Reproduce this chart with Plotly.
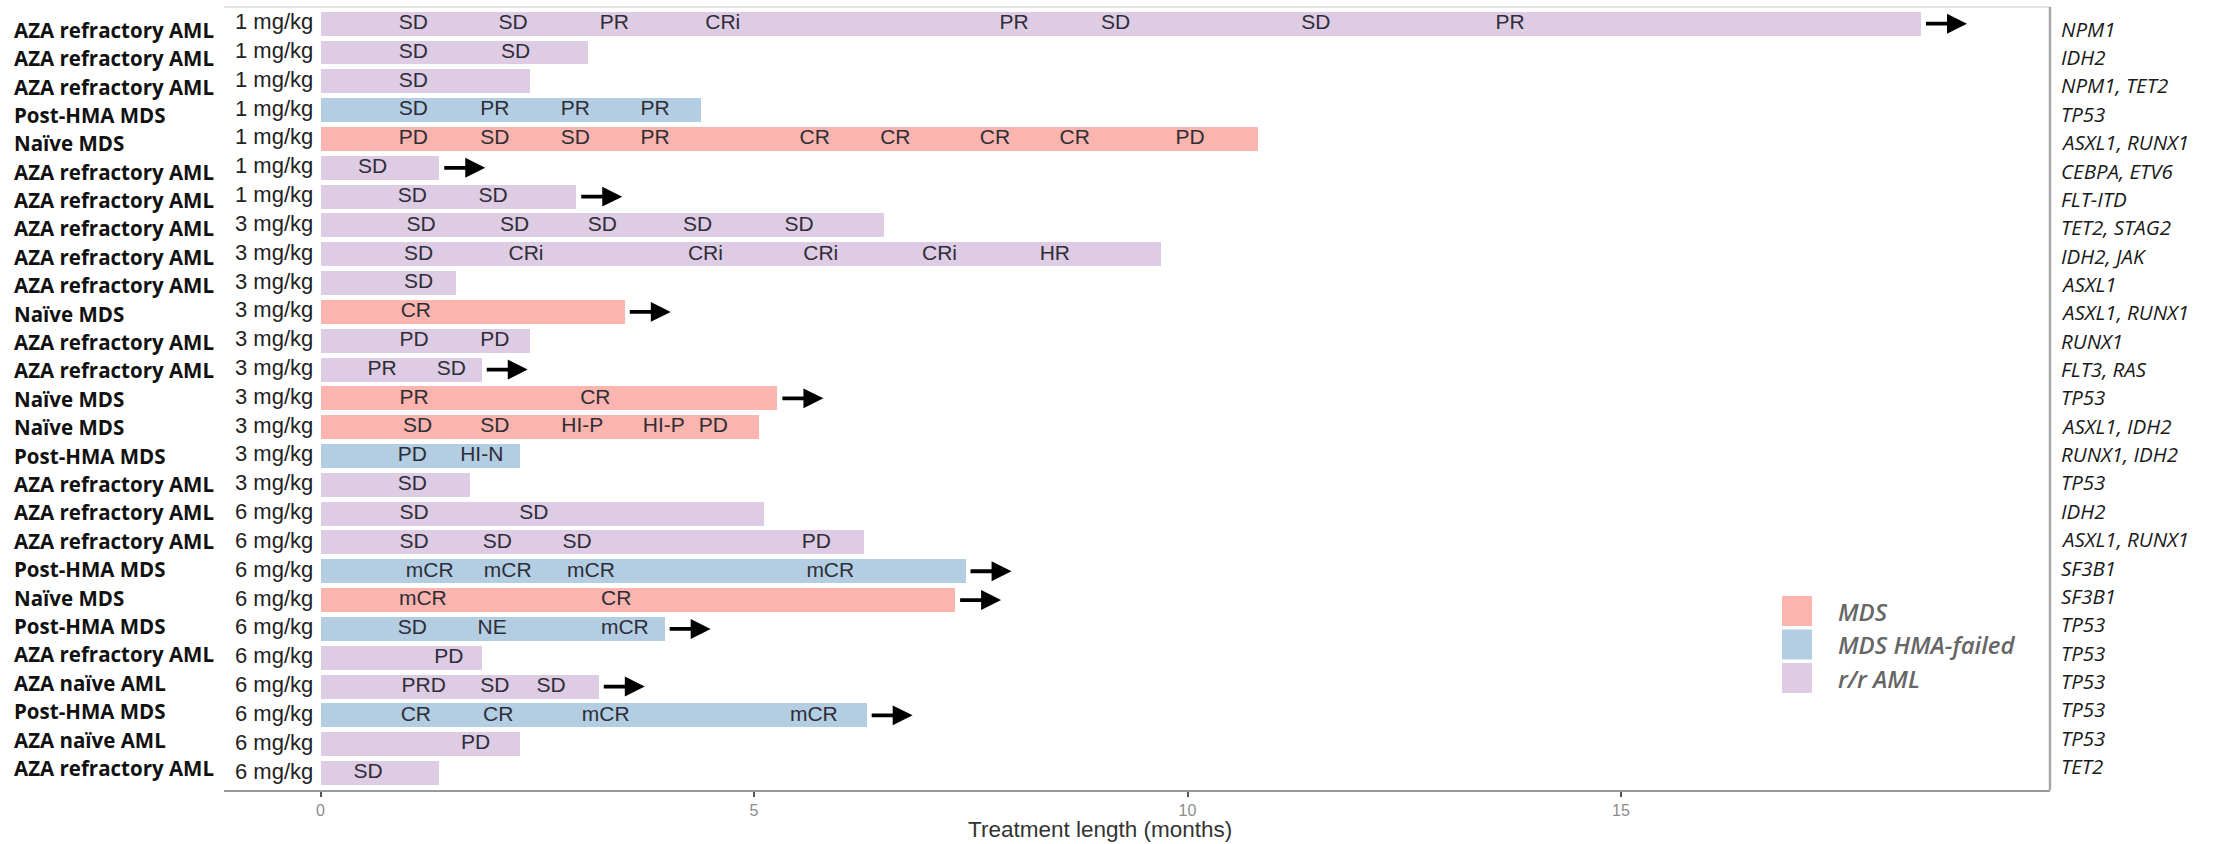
import plotly.graph_objects as go

# ---------------- data ----------------
patient_groups = [
    "AZA refractory AML", "AZA refractory AML", "AZA refractory AML", "Post-HMA MDS",
    "Naïve MDS", "AZA refractory AML", "AZA refractory AML", "AZA refractory AML",
    "AZA refractory AML", "AZA refractory AML", "Naïve MDS", "AZA refractory AML",
    "AZA refractory AML", "Naïve MDS", "Naïve MDS", "Post-HMA MDS",
    "AZA refractory AML", "AZA refractory AML", "AZA refractory AML", "Post-HMA MDS",
    "Naïve MDS", "Post-HMA MDS", "AZA refractory AML", "AZA naïve AML",
    "Post-HMA MDS", "AZA naïve AML", "AZA refractory AML",
]
doses = [
    "1 mg/kg", "1 mg/kg", "1 mg/kg", "1 mg/kg", "1 mg/kg", "1 mg/kg", "1 mg/kg",
    "3 mg/kg", "3 mg/kg", "3 mg/kg", "3 mg/kg", "3 mg/kg", "3 mg/kg", "3 mg/kg",
    "3 mg/kg", "3 mg/kg", "3 mg/kg",
    "6 mg/kg", "6 mg/kg", "6 mg/kg", "6 mg/kg", "6 mg/kg", "6 mg/kg", "6 mg/kg",
    "6 mg/kg", "6 mg/kg", "6 mg/kg",
]
mutations = [
    "NPM1", "IDH2", "NPM1, TET2", "TP53", "ASXL1, RUNX1", "CEBPA, ETV6", "FLT-ITD",
    "TET2, STAG2", "IDH2, JAK", "ASXL1", "ASXL1, RUNX1", "RUNX1", "FLT3, RAS", "TP53",
    "ASXL1, IDH2", "RUNX1, IDH2", "TP53", "IDH2", "ASXL1, RUNX1", "SF3B1", "SF3B1",
    "TP53", "TP53", "TP53", "TP53", "TP53", "TET2",
]
cohorts = [
    "r/r AML", "r/r AML", "r/r AML", "MDS HMA-failed", "MDS", "r/r AML", "r/r AML",
    "r/r AML", "r/r AML", "r/r AML", "MDS", "r/r AML", "r/r AML", "MDS", "MDS",
    "MDS HMA-failed", "r/r AML", "r/r AML", "r/r AML", "MDS HMA-failed", "MDS",
    "MDS HMA-failed", "r/r AML", "r/r AML", "MDS HMA-failed", "r/r AML", "r/r AML",
]
treatment_months = [
    18.46, 3.08, 2.42, 4.39, 10.81, 1.37, 2.95, 6.50, 9.69, 1.56, 3.51, 2.42, 1.86,
    5.27, 5.06, 2.30, 1.73, 5.11, 6.27, 7.44, 7.32, 3.97, 1.86, 3.21, 6.30, 2.30, 1.37,
]
ongoing = [
    True, False, False, False, False, True, True, False, False, False, True, False,
    True, True, False, False, False, False, False, True, True, True, False, True,
    True, False, False,
]
response_months = [
    [1.07, 2.22, 3.39, 4.64, 8.00, 9.17, 11.48, 13.72],
    [1.07, 2.25],
    [1.07],
    [1.07, 2.01, 2.94, 3.86],
    [1.07, 2.01, 2.94, 3.86, 5.70, 6.63, 7.78, 8.70, 10.03],
    [0.60],
    [1.06, 1.99],
    [1.16, 2.24, 3.25, 4.35, 5.52],
    [1.13, 2.37, 4.44, 5.77, 7.14, 8.47],
    [1.13],
    [1.10],
    [1.08, 2.01],
    [0.71, 1.51],
    [1.08, 3.17],
    [1.12, 2.01, 3.02, 3.96, 4.53],
    [1.06, 1.86],
    [1.06],
    [1.08, 2.46],
    [1.08, 2.04, 2.96, 5.72],
    [1.26, 2.16, 3.12, 5.88],
    [1.18, 3.41],
    [1.06, 1.98, 3.51],
    [1.48],
    [1.19, 2.01, 2.66],
    [1.10, 2.05, 3.29, 5.69],
    [1.79],
    [0.55],
]
response_labels = [
    ["SD", "SD", "PR", "CRi", "PR", "SD", "SD", "PR"],
    ["SD", "SD"],
    ["SD"],
    ["SD", "PR", "PR", "PR"],
    ["PD", "SD", "SD", "PR", "CR", "CR", "CR", "CR", "PD"],
    ["SD"],
    ["SD", "SD"],
    ["SD", "SD", "SD", "SD", "SD"],
    ["SD", "CRi", "CRi", "CRi", "CRi", "HR"],
    ["SD"],
    ["CR"],
    ["PD", "PD"],
    ["PR", "SD"],
    ["PR", "CR"],
    ["SD", "SD", "HI-P", "HI-P", "PD"],
    ["PD", "HI-N"],
    ["SD"],
    ["SD", "SD"],
    ["SD", "SD", "SD", "PD"],
    ["mCR", "mCR", "mCR", "mCR"],
    ["mCR", "CR"],
    ["SD", "NE", "mCR"],
    ["PD"],
    ["PRD", "SD", "SD"],
    ["CR", "CR", "mCR", "mCR"],
    ["PD"],
    ["SD"],
]
cohort_names = ["MDS", "MDS HMA-failed", "r/r AML"]
x_ticks = [0, 5, 10, 15]

# ---------------- styling / layout ----------------
cohort_colors = {"MDS": "#FBB4AE", "MDS HMA-failed": "#B3CDE3", "r/r AML": "#DECBE4"}

W, H = 2229, 844
L, R, T, B = 224, 2050, 7, 790
ROW_PX = 28.83


def px_x(px):
    return (px - L) / (R - L)


def px_y(py):
    return (B - py) / (B - T)


n = len(patient_groups)
rows = list(range(n))

fig = go.Figure()

fig.add_trace(go.Bar(
    orientation="h",
    y=rows,
    x=treatment_months,
    base=0,
    width=0.83,
    marker=dict(color=[cohort_colors[c] for c in cohorts], line=dict(width=0)),
    hoverinfo="skip",
    showlegend=False,
))

lx, ly, lt = [], [], []
for i in rows:
    for xm, lab in zip(response_months[i], response_labels[i]):
        lx.append(xm)
        ly.append(i)
        lt.append(lab)
fig.add_trace(go.Scatter(
    x=lx, y=ly, text=lt, mode="text", textposition="middle center",
    textfont=dict(family="Liberation Sans, Arial, sans-serif", size=21, color="#2e2e38"),
    hoverinfo="skip", showlegend=False, cliponaxis=False,
))

fig.add_trace(go.Scatter(
    x=[-0.535] * n, y=rows, text=doses, mode="text", textposition="middle center",
    textfont=dict(family="Liberation Sans, Arial, sans-serif", size=22, color="#222222"),
    hoverinfo="skip", showlegend=False, cliponaxis=False,
))

annotations = []
# ongoing-treatment arrows
for i in rows:
    if ongoing[i]:
        end = treatment_months[i]
        annotations.append(dict(
            x=end + 0.53, y=i, ax=end + 0.04, ay=i,
            xref="x", yref="y", axref="x", ayref="y",
            text="", showarrow=True, arrowhead=2, arrowsize=1.05,
            arrowwidth=3.8, arrowcolor="black", standoff=0, startstandoff=0,
        ))

# patient group labels (left) and mutations (right)
for i in rows:
    annotations.append(dict(
        x=px_x(12), xref="paper", xanchor="left",
        y=i + (6 - 11 * i / (n - 1)) / ROW_PX, yref="y", yanchor="middle",
        text=patient_groups[i], showarrow=False,
        font=dict(family="Open Sans, Lato, sans-serif", size=20.5, color="#111111", weight="bold"),
    ))
    annotations.append(dict(
        x=px_x(2059), xref="paper", xanchor="left",
        y=i + (5 - 12 * i / (n - 1)) / ROW_PX, yref="y", yanchor="middle",
        text="<i>" + mutations[i] + "</i>", showarrow=False,
        font=dict(family="Open Sans, Lato, sans-serif", size=20.5, color="#1a1a1a"),
    ))

# custom legend
shapes = []
legend_top = [596, 629.5, 663]
for k, name in enumerate(cohort_names):
    y0 = legend_top[k]
    shapes.append(dict(
        type="rect", xref="paper", yref="paper",
        x0=px_x(1782), x1=px_x(1812), y0=px_y(y0 + 30), y1=px_y(y0),
        fillcolor=cohort_colors[name], line=dict(width=0), layer="above",
    ))
    annotations.append(dict(
        x=px_x(1836), xref="paper", xanchor="left",
        y=px_y(y0 + 15), yref="paper", yanchor="middle",
        text="<i>" + name + "</i>", showarrow=False,
        font=dict(family="Open Sans, Lato, sans-serif", size=24, color="#666666", weight=600),
    ))

# axis title
annotations.append(dict(
    x=px_x(1100), xref="paper", xanchor="center",
    y=px_y(830), yref="paper", yanchor="middle",
    text="Treatment length (months)", showarrow=False,
    font=dict(family="Liberation Sans, Arial, sans-serif", size=22.5, color="#333333"),
))

# panel border (top and right)
shapes.append(dict(type="line", xref="paper", yref="paper", x0=0, x1=1, y0=1, y1=1,
                   line=dict(color="#e2e2e2", width=2), layer="above"))
shapes.append(dict(type="line", xref="paper", yref="paper", x0=1, x1=1, y0=0, y1=1,
                   line=dict(color="#a8a8a8", width=2.5), layer="above"))

fig.update_layout(
    width=W, height=H,
    margin=dict(l=L, r=W - R, t=T, b=H - B, pad=0),
    paper_bgcolor="white", plot_bgcolor="white",
    showlegend=False,
    annotations=annotations,
    shapes=shapes,
    bargap=0,
    xaxis=dict(
        range=[(L - 320.5) / 86.7, (R - 320.5) / 86.7],
        tickvals=x_ticks, ticktext=[str(t) for t in x_ticks],
        showgrid=False, zeroline=False,
        showline=True, linecolor="#9a9a9a", linewidth=2,
        ticks="outside", ticklen=5, tickwidth=2, tickcolor="#555555",
        tickfont=dict(family="Liberation Sans, Arial, sans-serif", size=16, color="#8c8c8c"),
        fixedrange=True,
    ),
    yaxis=dict(
        range=[n - 1 + 0.59, -0.58],
        showticklabels=False, showgrid=False, zeroline=False, showline=False,
        ticks="", fixedrange=True,
    ),
)

fig.write_html(
    "out.html",
    config={"displayModeBar": False},
    post_script="document.body.style.margin='0';document.body.style.overflow='hidden';",
)
